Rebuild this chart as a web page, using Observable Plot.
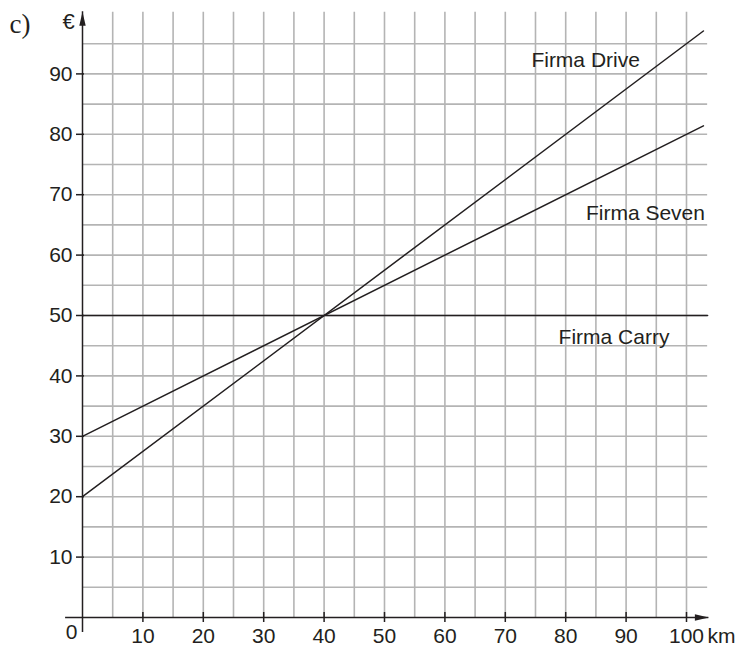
<!DOCTYPE html>
<html>
<head>
<meta charset="utf-8">
<script src="https://cdn.jsdelivr.net/npm/d3@7"></script>
<script src="https://cdn.jsdelivr.net/npm/@observablehq/plot@0.6"></script>
<style>
  html, body { margin: 0; padding: 0; background: #fff; }
  #chart { width: 739px; height: 646px; }
</style>
</head>
<body>
<div id="chart"></div>
<script>
// ---- data ----
const seriesNames = ["Firma Drive", "Firma Seven", "Firma Carry"];
const driveKm = [0, 102.8];
const driveEuro = [20, 97.1];
const sevenKm = [0, 102.8];
const sevenEuro = [30, 81.4];
const carryKm = [0, 103.5];
const carryEuro = [50, 50];
const xTickValues = [10, 20, 30, 40, 50, 60, 70, 80, 90, 100];
const yTickValues = [10, 20, 30, 40, 50, 60, 70, 80, 90];
const xGridValues = [5, 10, 15, 20, 25, 30, 35, 40, 45, 50, 55, 60, 65, 70, 75, 80, 85, 90, 95, 100];
const yGridValues = [5, 10, 15, 20, 25, 30, 35, 40, 45, 50, 55, 60, 65, 70, 75, 80, 85, 90, 95];
const labelKm = [83.3, 93.2, 88.0];
const labelEuro = [92.2, 67.0, 46.4];
const xAxisExtent = [-2.8, 103.7];
const yAxisExtent = [-2.5, 100.3];
const gridXEnd = 103.5;
const gridYEnd = 100.2;

// ---- build tables ----
const lines = [
  ...driveKm.map((k, i) => ({name: seriesNames[0], km: k, euro: driveEuro[i]})),
  ...sevenKm.map((k, i) => ({name: seriesNames[1], km: k, euro: sevenEuro[i]})),
  ...carryKm.map((k, i) => ({name: seriesNames[2], km: k, euro: carryEuro[i]}))
];
const labels = seriesNames.map((n, i) => ({name: n, km: labelKm[i], euro: labelEuro[i]}));

const arrowSymbol = {
  draw(ctx) {
    ctx.moveTo(0, 0);
    ctx.lineTo(-3.2, 14);
    ctx.lineTo(3.2, 14);
    ctx.closePath();
  }
};

const axisColor = "#231f20";
const gridColor = "#b4b4b4";
const font = "'Liberation Sans', Arial, sans-serif";
const fs = 21;

const plot = Plot.plot({
  width: 739,
  height: 646,
  marginLeft: 82,
  marginRight: 53,
  marginTop: 13,
  marginBottom: 29,
  x: {domain: [0, 100], axis: null},
  y: {domain: [0, 100], axis: null},
  style: {fontFamily: font, background: "#fff", overflow: "visible"},
  marks: [
    Plot.ruleX(xGridValues, {x: d => d, y1: 0, y2: gridYEnd, stroke: gridColor, strokeWidth: 1.6}),
    Plot.ruleY(yGridValues, {y: d => d, x1: 0, x2: gridXEnd, stroke: gridColor, strokeWidth: 1.6}),
    // axes
    Plot.ruleY([0], {x1: xAxisExtent[0], x2: xAxisExtent[1], stroke: axisColor, strokeWidth: 1.5}),
    Plot.ruleX([0], {y1: yAxisExtent[0], y2: yAxisExtent[1], stroke: axisColor, strokeWidth: 1.5}),
    Plot.dot([{x: 0, y: yAxisExtent[1]}], {x: "x", y: "y", symbol: arrowSymbol, fill: axisColor, stroke: "none", rotate: 0}),
    Plot.dot([{x: xAxisExtent[1], y: 0}], {x: "x", y: "y", symbol: arrowSymbol, fill: axisColor, stroke: "none", rotate: 90}),
    // ticks
    Plot.ruleX(xTickValues, {x: d => d, y1: 0, y2: 0, insetTop: -5, insetBottom: -5, stroke: axisColor, strokeWidth: 1.5}),
    Plot.ruleY(yTickValues, {y: d => d, x1: 0, x2: 0, insetLeft: -6, insetRight: -2, stroke: axisColor, strokeWidth: 1.5}),
    // tick labels
    Plot.text(xTickValues, {x: d => d, y: 0, text: d => String(d), dy: 19, fontSize: fs, fill: axisColor, lineAnchor: "middle"}),
    Plot.text(yTickValues, {x: 0, y: d => d, text: d => String(d), dx: -10, textAnchor: "end", fontSize: fs, fill: axisColor}),
    Plot.text(["0"], {x: 0, y: 0, text: d => d, dx: -11, dy: 15, fontSize: fs, fill: axisColor}),
    Plot.text(["km"], {x: 100, y: 0, text: d => d, dx: 21, dy: 19, textAnchor: "start", fontSize: fs, fill: axisColor}),
    Plot.text(["€"], {x: 0, y: 100, text: d => d, dx: -14, dy: 8, fontSize: 22, fill: axisColor}),
    Plot.text(["c)"], {frameAnchor: "top-left", text: d => d, dx: -73, dy: 11, textAnchor: "start", lineAnchor: "middle", fontSize: 27, fontFamily: "'Liberation Serif', 'Times New Roman', serif", fill: axisColor}),
    // series lines
    Plot.line(lines, {x: "km", y: "euro", z: "name", stroke: axisColor, strokeWidth: 1.5}),
    Plot.text(labels, {x: "km", y: "euro", text: "name", fontSize: fs, fill: axisColor})
  ]
});
document.getElementById("chart").appendChild(plot);
</script>
</body>
</html>
